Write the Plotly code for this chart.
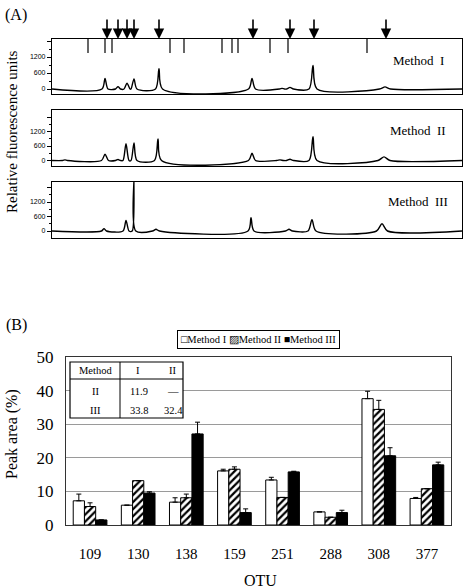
import plotly.graph_objects as go

W, H = 465, 588

# ---------------- Panel A data (electropherograms) ----------------
# positions on the electropherogram axis, peak heights (fluorescence units), half-widths
m1_pos = [105, 118, 127, 134, 159, 252, 282, 290, 313, 385]
m1_h = [400, 90, 220, 380, 760, 400, 25, 60, 880, 80]
m1_w = [3, 2.5, 3, 3, 3.5, 3.5, 2.5, 3.5, 4, 5.5]

m2_pos = [65, 105, 118, 126, 134, 158, 252, 280, 290, 313, 384]
m2_h = [25, 260, 40, 690, 730, 890, 300, 25, 50, 980, 150]
m2_w = [2.5, 3.5, 2.5, 3, 3, 3.5, 3.5, 3.5, 3.5, 4, 6]

m3_pos = [104, 126, 134, 156, 251, 289, 312, 382]
m3_h = [100, 440, 2200, 70, 550, 70, 470, 300]
m3_w = [2.5, 3, 1.8, 3.5, 3, 3.5, 4, 5.5]

arrow_pos = [107, 118, 127, 134, 159, 253, 290, 314, 386]
marker_pos = [88, 105, 112, 170, 184, 222, 232, 238, 270, 288, 367]
marker_top = 1875
marker_bottom = 1350

axis_start, axis_end = 52, 462

# ---------------- Panel B data (peak area) ----------------
otu = ["109", "130", "138", "159", "251", "288", "308", "377"]
method1 = [7.2, 5.9, 6.8, 16.1, 13.4, 3.9, 37.6, 7.9]
method1_err = [2.0, 0.0, 1.3, 0.5, 0.8, 0.0, 2.2, 0.3]
method2 = [5.5, 13.2, 8.1, 16.6, 8.2, 2.3, 34.4, 10.8]
method2_err = [1.1, 0.0, 1.1, 0.7, 0.0, 0.0, 2.7, 0.0]
method3 = [1.5, 9.5, 27.1, 3.7, 15.8, 3.7, 20.6, 17.9]
method3_err = [0.0, 0.4, 3.5, 1.1, 0.2, 0.7, 2.4, 0.8]

table_header = ["Method", "I", "II"]
table_rows = ["II", "III"]
table_vals = [["11.9", "\u2014"], ["33.8", "32.4"]]

SERIF = "Liberation Serif, Times New Roman, serif"


def px_x(p):
    return p / W


def px_y(p):
    return 1 - p / H


def trace_points(pos, hts, wid):
    xs, ys = [axis_start], [0]
    for p, h, w in zip(pos, hts, wid):
        xs += [p - w, p, p + w]
        ys += [0, h, 0]
    xs.append(axis_end)
    ys.append(0)
    return xs, ys


fig = go.Figure()

for i, (pos, hts, wid) in enumerate([(m1_pos, m1_h, m1_w), (m2_pos, m2_h, m2_w), (m3_pos, m3_h, m3_w)]):
    xs, ys = trace_points(pos, hts, wid)
    sfx = "" if i == 0 else str(i + 1)
    fig.add_trace(go.Scatter(x=xs, y=ys, mode="lines", xaxis="x" + sfx, yaxis="y" + sfx,
                             line=dict(color="black", width=1.4, shape="spline", smoothing=0.8),
                             showlegend=False, hoverinfo="skip"))

# marker lines at top of Method I panel
mx, my = [], []
for p in marker_pos:
    mx += [p, p, None]
    my += [marker_top, marker_bottom, None]
fig.add_trace(go.Scatter(x=mx, y=my, mode="lines", xaxis="x", yaxis="y",
                         line=dict(color="black", width=1.2), showlegend=False, hoverinfo="skip"))

# bars
err_common = dict(type="data", symmetric=False, color="black", thickness=1, width=2.5)
fig.add_trace(go.Bar(x=otu, y=method1, name="Method I", xaxis="x4", yaxis="y4",
                     marker=dict(color="white", line=dict(color="black", width=1)),
                     error_y=dict(array=method1_err, arrayminus=[0] * len(otu), **err_common)))
fig.add_trace(go.Bar(x=otu, y=method2, name="Method II", xaxis="x4", yaxis="y4",
                     marker=dict(color="white", line=dict(color="black", width=1),
                                 pattern=dict(shape="/", fgcolor="black", bgcolor="white",
                                              size=5, solidity=0.45)),
                     error_y=dict(array=method2_err, arrayminus=[0] * len(otu), **err_common)))
fig.add_trace(go.Bar(x=otu, y=method3, name="Method III", xaxis="x4", yaxis="y4",
                     marker=dict(color="black", line=dict(color="black", width=1)),
                     error_y=dict(array=method3_err, arrayminus=[0] * len(otu), **err_common)))

# ---------------- axes ----------------
xA = dict(domain=[px_x(52), px_x(462)], range=[axis_start, axis_end], showline=True, mirror=True,
          linecolor="black", linewidth=1.2, showticklabels=False, ticks="", showgrid=False,
          zeroline=False, automargin=False)


def yA(top, bottom, rng, anchor):
    return dict(domain=[px_y(bottom), px_y(top)], range=rng, anchor=anchor,
                tickvals=[0, 600, 1200, 1800], ticktext=["0", "600", "1200", ""],
                ticks="outside", ticklen=4, tickwidth=1, tickcolor="black",
                minor=dict(dtick=300, tick0=0, ticks="outside", ticklen=2, tickcolor="black"),
                tickfont=dict(family="Liberation Sans, Arial", size=7, color="black"),
                showline=True, mirror=True, linecolor="black", linewidth=1.2,
                showgrid=False, zeroline=False, automargin=False)


fig.update_layout(
    width=W, height=H, template="none",
    margin=dict(l=0, r=0, t=0, b=0),
    paper_bgcolor="white", plot_bgcolor="white",
    showlegend=False,
    barmode="group", bargap=0.3, bargroupgap=0,
    xaxis=dict(xA, anchor="y"),
    yaxis=yA(39, 94, [-187, 1875], "x"),
    xaxis2=dict(xA, anchor="y2"),
    yaxis2=yA(110, 166, [-228, 2090], "x2"),
    xaxis3=dict(xA, anchor="y3"),
    yaxis3=yA(182, 238, [-290, 2030], "x3"),
    xaxis4=dict(domain=[px_x(66), px_x(451)], anchor="y4", type="category", range=[-0.5, 7.5],
                showline=True, mirror=True, linecolor="#333", linewidth=1.2, ticks="",
                ticklabelstandoff=15, tickfont=dict(family=SERIF, size=15, color="black"),
                showgrid=False, zeroline=False, automargin=False),
    yaxis4=dict(domain=[px_y(525), px_y(357)], anchor="x4", range=[0, 50], dtick=10,
                showline=True, mirror=True, linecolor="#333", linewidth=1.2, ticks="",
                ticklabelstandoff=8, tickfont=dict(family=SERIF, size=17, color="black"),
                showgrid=True, gridcolor="#9a9a9a", gridwidth=1, zeroline=False, automargin=False),
    font=dict(family=SERIF, color="black"),
)


def label(xp, yp, text, size, **kw):
    d = dict(x=px_x(xp), y=px_y(yp), xref="paper", yref="paper", text=text, showarrow=False,
             xanchor="center", yanchor="middle", font=dict(size=size, family=SERIF, color="black"))
    d.update(kw)
    return d


ann = []
# arrows
for p in arrow_pos:
    ann.append(dict(x=p, y=1875, xref="x", yref="y", text="", showarrow=True, ax=0, ay=-21,
                    arrowhead=2, arrowsize=1.3, arrowwidth=1.6, arrowcolor="black", standoff=0))

ann += [
    label(16, 15, "(A)", 16),
    label(16, 325, "(B)", 16),
    label(12, 132, "Relative fluorescence units", 15, textangle=-90),
    label(12, 434, "Peak area (%)", 16, textangle=-90),
    label(260, 580, "OTU", 16),
    label(418, 61, "Method  I", 13),
    label(418, 130, "Method  II", 13),
    label(418, 201, "Method  III", 13),
    label(258.5, 339, "\u25a1Method I \u25a8Method II \u25a0Method III", 10.5,
          bordercolor="black", borderwidth=1, borderpad=3, bgcolor="white"),
]

# inset table text
col_x = [95, 138, 172]
row_y = [370, 391, 410]
for cx, t in zip(col_x, table_header):
    ann.append(label(cx, row_y[0], t, 10.5))
for r, (rl, vals) in enumerate(zip(table_rows, table_vals)):
    ann.append(label(col_x[0], row_y[r + 1], rl, 10.5))
    for cx, v in zip(col_x[1:], vals):
        ann.append(label(cx + 1, row_y[r + 1], v, 10.5))

fig.update_layout(annotations=ann)

shapes = [
    dict(type="rect", xref="paper", yref="paper", x0=px_x(70), x1=px_x(183), y0=px_y(418), y1=px_y(362),
         fillcolor="white", line=dict(color="black", width=1.2), layer="above"),
    dict(type="line", xref="paper", yref="paper", x0=px_x(70), x1=px_x(183), y0=px_y(379), y1=px_y(379),
         line=dict(color="black", width=1)),
    dict(type="line", xref="paper", yref="paper", x0=px_x(120), x1=px_x(120), y0=px_y(418), y1=px_y(362),
         line=dict(color="black", width=1)),
]
fig.update_layout(shapes=shapes)

fig.write_html("out.html", config={"displayModeBar": False},
               post_script="document.body.style.margin='0px';")
